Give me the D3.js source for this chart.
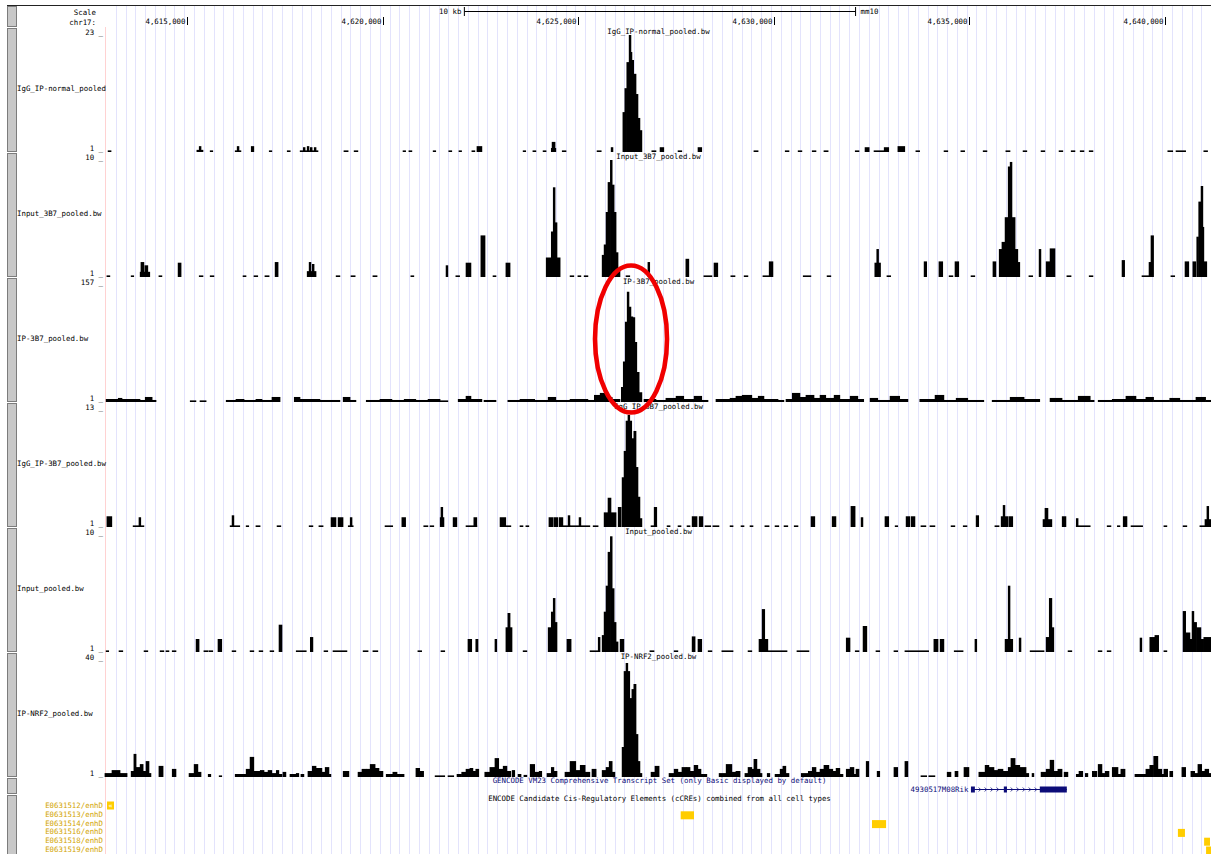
<!DOCTYPE html>
<html>
<head>
<meta charset="utf-8">
<script src="https://cdn.jsdelivr.net/npm/d3@7"></script>
<style>
  body { margin: 0; background: #fff; }
  svg { display: block; }
  text { font-family: "DejaVu Sans Mono", "Liberation Mono", monospace; font-size: 7.4px; }
</style>
</head>
<body>
<svg id="chart" width="1211" height="854"></svg>
<script>
// ---- Genome window (chr17, mm10), positions in kb ----
const regionStart = 4612.929;
const regionEnd = 4641.176;
const rulerTicks = [4615, 4620, 4625, 4630, 4635, 4640];
const scaleBarStartKb = 4622.09;
const scaleBarLengthKb = 10;
const gridStepKb = 0.25;

// ---- bigWig tracks ----
const trackNames = ["IgG_IP-normal_pooled", "Input_3B7_pooled.bw", "IP-3B7_pooled.bw",
                    "IgG_IP-3B7_pooled.bw", "Input_pooled.bw", "IP-NRF2_pooled.bw"];
const trackTitles = ["IgG_IP-normal_pooled.bw", "Input_3B7_pooled.bw", "IP-3B7_pooled.bw",
                     "IgG_IP-3B7_pooled.bw", "Input_pooled.bw", "IP-NRF2_pooled.bw"];
const trackMax = [23, 10, 157, 13, 10, 40];
const trackMin = [1, 1, 1, 1, 1, 1];

// Signal as [startKb, endKb, value]
const igGNormalSignal = [
  [4612.98,4613.06,1],[4615.25,4615.41,1.4],[4615.31,4615.36,2.1],[4615.59,4615.66,1],[4616.23,4616.38,1],
  [4616.28,4616.33,2.1],[4616.64,4616.71,2.1],[4617.10,4617.17,1],[4617.56,4617.64,1],[4617.89,4618.35,1],
  [4617.97,4618.02,1.9],[4618.07,4618.12,2.1],[4618.15,4618.20,1.9],[4618.25,4618.30,1.9],[4619.01,4619.12,1],
  [4619.27,4619.37,1],[4620.52,4620.59,1],[4620.67,4620.75,1],[4621.29,4621.36,1],[4621.69,4621.77,1],
  [4621.95,4622.02,1],[4622.28,4622.36,1],[4622.41,4622.54,2.1],[4623.59,4623.66,1],[4623.84,4623.92,1],
  [4624.10,4624.18,1],[4624.31,4624.43,1.75],[4624.33,4624.41,2.9],[4624.59,4624.69,1],[4625.48,4625.59,1],
  [4625.84,4625.89,1.9],
  [4626.14,4626.19,8.5],[4626.19,4626.24,13.0],[4626.24,4626.30,17.9],[4626.30,4626.35,23],[4626.35,4626.37,19.8],
  [4626.37,4626.42,18.3],[4626.42,4626.48,15.7],[4626.48,4626.53,11.9],[4626.53,4626.58,7.4],[4626.58,4626.63,5.1],
  [4626.88,4626.99,1],[4627.09,4627.19,1.9],[4627.55,4627.65,1],[4628.06,4628.16,1.9],[4629.49,4629.60,1],
  [4630.29,4630.39,1],[4630.62,4630.72,1],[4630.98,4631.08,1],[4631.28,4631.39,1],[4632.08,4632.18,1],
  [4632.33,4632.44,1.9],[4632.56,4632.82,1],[4632.82,4632.94,1.9],[4633.17,4633.35,2.1],[4633.63,4633.73,1],
  [4634.35,4634.45,1],[4634.78,4634.88,1],[4635.35,4635.45,1],[4635.93,4636.04,1],[4636.37,4636.47,1],
  [4636.83,4636.93,1],[4637.29,4637.39,1],[4637.60,4637.70,1],[4637.83,4637.93,1],[4638.06,4638.16,1],
  [4640.07,4640.20,1],[4640.28,4640.53,1],[4640.99,4641.09,1]
];

const input3B7Signal = [
  [4612.95,4613.03,1],[4613.57,4613.64,1],[4613.80,4614.05,1.4],[4613.82,4613.90,2.15],[4613.92,4614.00,1.9],
  [4614.28,4614.36,1],[4614.77,4614.85,2.1],[4615.31,4615.41,1],[4615.59,4615.69,1],[4616.43,4616.51,1],
  [4616.71,4616.81,1],[4616.99,4617.10,1],[4617.25,4617.33,2.15],[4618.07,4618.30,1.45],[4618.12,4618.17,2.15],
  [4618.20,4618.25,2.0],[4618.81,4618.91,1],[4619.19,4619.30,1],[4619.75,4619.86,1],[4620.72,4620.80,1],
  [4621.62,4621.67,1.9],[4621.87,4621.97,1],[4622.13,4622.26,2.1],[4622.51,4622.62,4.2],[4622.82,4622.90,1],
  [4623.15,4623.26,2.1],
  [4624.18,4624.31,2.5],[4624.31,4624.36,4.5],[4624.36,4624.41,7.9],[4624.41,4624.46,5.2],[4624.46,4624.54,2.5],
  [4624.79,4624.89,1],[4624.99,4625.07,1],[4625.15,4625.25,1],
  [4625.61,4625.66,2.7],[4625.66,4625.71,3.5],[4625.71,4625.76,6],[4625.76,4625.82,8.3],[4625.82,4625.87,10],
  [4625.87,4625.92,8.1],[4625.92,4625.97,6],[4625.97,4626.02,2.9],[4626.02,4626.07,1.6],
  [4626.22,4626.32,1],[4626.78,4626.83,2.15],[4627.75,4627.83,2.4],[4628.21,4628.42,1],[4628.47,4628.57,2.1],
  [4628.90,4629.01,1],[4629.24,4629.34,1],[4629.72,4629.88,1],[4629.88,4629.98,2.2],[4630.75,4630.95,1],
  [4631.36,4631.46,1],[4632.58,4632.73,2.1],[4632.63,4632.68,3.15],[4632.89,4632.99,1],[4633.84,4633.91,2.2],
  [4634.22,4634.32,2.2],[4634.48,4634.58,1],[4634.63,4634.73,2.2],[4635.04,4635.14,1],[4635.60,4635.68,2.2],
  [4635.76,4635.83,3.15],[4635.83,4635.91,3.7],[4635.91,4635.99,5.6],[4635.99,4636.04,9.5],[4636.04,4636.09,9.85],
  [4636.09,4636.17,5.6],[4636.17,4636.24,3.15],[4636.24,4636.29,2.15],
  [4636.52,4636.62,1],[4636.78,4636.83,3.15],[4636.96,4637.06,2.2],[4637.06,4637.19,3.2],[4637.49,4637.60,1],
  [4638.06,4638.16,1],[4638.90,4638.97,2.3],[4639.41,4639.59,1],[4639.59,4639.64,2.15],[4639.64,4639.71,4.2],
  [4640.15,4640.25,1],[4640.51,4640.61,2.2],[4640.71,4640.79,2.2],[4640.81,4640.86,4.1],[4640.86,4640.92,6.8],
  [4640.92,4640.97,8],[4640.97,4640.99,4.85],[4640.99,4641.07,2.2]
];

const ip3B7Signal = [
  [4612.93,4613.24,5],[4613.24,4613.34,6.4],[4613.34,4613.80,5],[4613.80,4613.93,3.7],[4613.93,4614.11,7.7],
  [4614.11,4614.21,3.7],[4615.08,4615.23,1],[4615.33,4615.49,1],[4616.00,4616.25,3.7],[4616.25,4616.46,5],
  [4616.46,4616.76,3.7],[4616.76,4616.92,5],[4616.92,4617.17,3.7],[4617.17,4617.38,7.7],[4617.74,4617.89,7.7],
  [4617.89,4618.40,5],[4618.40,4618.91,3.7],[4618.99,4619.17,7.7],[4619.17,4619.32,3.7],[4619.58,4619.93,3.7],
  [4619.93,4620.24,5],[4620.24,4620.55,3.7],[4620.55,4620.85,5],[4620.85,4621.16,3.7],[4621.16,4621.47,5],
  [4621.47,4621.67,1],[4621.93,4622.13,5],[4622.13,4622.26,9.1],[4622.26,4622.54,5],[4622.59,4622.90,3.7],
  [4623.20,4623.51,3.7],[4623.51,4623.89,5],[4623.89,4624.23,3.7],[4624.23,4624.43,7.7],[4624.43,4624.79,3.7],
  [4624.79,4625.25,5],[4625.25,4625.41,3.7],[4625.41,4625.56,10.4],[4625.56,4625.71,13.1],[4625.71,4625.87,7.7],
  [4625.87,4626.07,5],
  [4626.10,4626.15,21],[4626.15,4626.20,55],[4626.20,4626.25,108],[4626.25,4626.30,148],[4626.30,4626.35,128],
  [4626.35,4626.40,115],[4626.40,4626.45,114],[4626.45,4626.50,81],[4626.50,4626.56,41],[4626.56,4626.63,14],
  [4626.68,4626.99,5],[4626.99,4627.24,3.7],[4627.24,4627.50,6.4],[4627.50,4627.70,9.1],[4627.70,4627.96,5],
  [4627.96,4628.16,9.1],[4628.16,4628.32,3.7],[4628.52,4628.88,5],[4628.88,4629.03,6.4],[4629.03,4629.19,9.1],
  [4629.19,4629.44,10.4],[4629.44,4629.60,6.4],[4629.60,4629.75,9.1],[4629.75,4630.11,5],[4630.11,4630.26,3.7],
  [4630.31,4630.47,5],[4630.47,4630.67,13.1],[4630.67,4630.82,7.7],[4630.82,4631.03,10.4],[4631.03,4631.18,6.4],
  [4631.18,4631.33,10.4],[4631.33,4631.54,6.4],[4631.54,4631.69,10.4],[4631.69,4631.95,5],[4631.95,4632.15,9.1],
  [4632.15,4632.30,5],[4632.46,4632.66,6.4],[4632.66,4632.97,3.7],[4632.97,4633.22,9.1],[4633.22,4633.43,5],
  [4633.73,4634.12,5],[4634.12,4634.35,10.4],[4634.35,4634.66,3.7],[4634.66,4634.96,6.4],[4634.96,4635.37,3.7],
  [4635.58,4636.04,3.7],[4636.04,4636.40,7.7],[4636.40,4636.80,5],[4637.06,4637.37,6.4],[4637.37,4637.78,3.7],
  [4637.78,4638.09,9.1],[4638.09,4638.19,3.7],[4638.29,4638.65,3.7],[4638.65,4639.00,5],[4639.00,4639.26,9.1],
  [4639.26,4639.51,5],[4639.51,4639.71,7.7],[4639.71,4640.12,3.7],[4640.12,4640.38,6.4],[4640.38,4640.79,3.7],
  [4640.79,4641.04,7.7],[4641.04,4641.17,3.7]
];

const igG3B7Signal = [
  [4612.95,4613.08,2.1],[4613.62,4613.90,1],[4613.77,4613.82,2.0],[4616.10,4616.35,1],[4616.15,4616.20,2.2],
  [4616.51,4616.58,1],[4616.76,4616.87,1],[4617.30,4617.40,1],[4618.12,4618.22,1],[4618.37,4618.48,1],
  [4618.68,4618.81,2.0],[4618.86,4618.99,2.0],[4619.12,4619.25,1],[4619.17,4619.22,2.0],[4620.06,4620.26,1],
  [4620.49,4620.59,2.0],[4621.05,4621.16,1],[4621.21,4621.31,1],[4621.47,4621.57,2.0],[4621.49,4621.54,3.05],
  [4621.80,4621.90,2.0],[4622.13,4622.41,1],[4622.33,4622.41,2.0],[4623.00,4623.15,2.0],[4623.15,4623.28,1],
  [4623.51,4623.59,1],[4623.66,4623.74,1],[4624.25,4624.36,2.0],[4624.38,4624.48,2.0],[4624.51,4624.61,2.0],
  [4624.61,4624.79,1],[4624.74,4624.79,2.2],[4624.79,4625.30,1],[4625.02,4625.07,2.0],[4625.38,4625.51,1],
  [4625.66,4625.97,2.5],[4625.76,4625.84,4.0],[4626.02,4626.10,3.05],
  [4626.12,4626.17,6.1],[4626.17,4626.22,8.8],[4626.22,4626.27,11.9],[4626.27,4626.32,12.5],[4626.32,4626.37,11.9],
  [4626.37,4626.42,10.1],[4626.42,4626.48,10.85],[4626.48,4626.53,7.15],[4626.53,4626.58,4.1],[4626.58,4626.63,1.9],
  [4626.86,4627.01,1],[4626.94,4627.01,3.05],[4627.27,4627.35,1],[4627.55,4627.63,1],[4627.78,4627.86,1],
  [4627.91,4628.04,2.1],[4628.09,4628.19,2.1],[4628.24,4628.39,1],[4628.44,4628.60,1],[4628.88,4628.96,1],
  [4629.16,4629.24,1],[4629.39,4629.47,1],[4629.77,4629.88,1],[4630.03,4630.13,1],[4630.26,4630.36,1],
  [4630.52,4630.62,1],[4630.95,4631.05,2.1],[4631.49,4631.59,2.1],[4631.97,4632.08,3.15],[4632.23,4632.28,2.0],
  [4632.84,4632.94,2.1],[4633.10,4633.17,1],[4633.38,4633.48,2.1],[4633.51,4633.61,2.1],[4633.76,4633.89,1],
  [4633.99,4634.12,1],[4634.53,4634.63,1],[4634.84,4634.94,1],[4635.17,4635.24,2.2],[4635.65,4635.76,1],
  [4635.81,4635.86,2.1],[4635.86,4635.91,3.25],[4635.91,4635.99,2.1],[4636.01,4636.11,2.1],[4636.88,4636.93,1.8],
  [4636.93,4637.01,2.95],[4637.01,4637.11,1.8],[4637.37,4637.47,2.1],[4637.73,4638.09,1],[4637.73,4637.78,1.9],
  [4638.52,4638.62,1],[4638.78,4638.85,1],[4638.93,4639.03,2.1],[4639.13,4639.43,1],[4639.97,4640.05,1],
  [4640.46,4640.56,1],[4640.89,4641.02,1],[4641.02,4641.07,1.8],[4641.07,4641.12,3.15],[4641.12,4641.17,1.8]
];

const inputSignal = [
  [4612.93,4613.00,1],[4613.26,4613.36,1],[4613.90,4614.00,1],[4614.31,4614.41,1],[4614.46,4614.54,1],
  [4614.62,4614.72,1],[4615.23,4615.31,2.0],[4615.43,4615.54,1],[4615.56,4615.66,1],[4615.79,4615.89,2.0],
  [4616.15,4616.25,1],[4616.61,4616.71,1],[4616.84,4616.94,1],[4617.12,4617.22,1],[4617.35,4617.43,3.1],
  [4617.79,4618.05,1],[4618.15,4618.22,2.15],[4618.50,4618.60,1],[4618.73,4619.09,1],[4619.50,4619.63,1],
  [4619.75,4619.88,1],[4620.90,4621.00,1],[4621.49,4621.59,1],[4622.18,4622.28,2.0],[4622.38,4622.44,2.0],
  [4622.87,4622.92,2.0],[4623.15,4623.20,2.9],[4623.20,4623.26,4.0],[4623.26,4623.31,2.9],[4623.59,4623.69,1],
  [4624.23,4624.31,2.9],[4624.31,4624.36,4.1],[4624.36,4624.41,5.15],[4624.41,4624.46,3.3],[4624.71,4624.82,2.0],
  [4625.30,4625.51,1],[4625.51,4625.56,2.15],
  [4625.61,4625.66,2.3],[4625.66,4625.71,4.1],[4625.71,4625.76,6.1],[4625.76,4625.82,8.7],[4625.82,4625.87,9.9],
  [4625.87,4625.92,5.9],[4625.92,4625.97,3.3],[4625.97,4626.02,1.8],[4626.07,4626.17,2.0],
  [4626.83,4626.94,1],[4627.45,4627.55,1],[4627.91,4627.99,2.2],[4628.06,4628.16,2.0],[4628.32,4628.42,1],
  [4628.67,4628.96,1],[4629.34,4629.44,1],[4629.62,4629.70,2.0],[4629.70,4629.77,4.3],[4629.77,4629.85,2.0],
  [4629.85,4630.34,1],[4630.59,4630.90,1],[4631.85,4631.95,2.1],[4632.08,4632.18,1],[4632.28,4632.38,3.0],
  [4632.61,4632.71,1],[4633.07,4633.17,1],[4633.35,4633.96,1],[4634.09,4634.20,2.0],[4634.25,4634.35,2.0],
  [4634.61,4634.84,1],[4635.14,4635.19,2.0],[4635.91,4635.99,2.0],[4635.99,4636.04,6.1],[4636.04,4636.11,2.0],
  [4636.27,4636.32,2.1],[4636.55,4636.91,1],[4636.96,4637.04,2.15],[4637.04,4637.11,5.15],[4637.11,4637.16,2.9],
  [4637.52,4637.62,1],[4638.29,4638.39,1],[4638.52,4638.62,1],[4639.36,4639.41,2.1],[4639.61,4639.74,2.15],
  [4639.74,4639.84,2.3],[4639.97,4640.05,1],[4640.46,4640.53,4.15],[4640.53,4640.64,2.5],[4640.64,4640.69,2.0],
  [4640.69,4640.74,4.15],[4640.74,4640.81,3.3],[4640.81,4640.92,2.9],[4640.92,4640.99,2.0],[4640.99,4641.17,2.15]
];

const ipNrf2Signal = [
  [4612.90,4613.08,2.3],[4613.08,4613.29,3.3],[4613.29,4613.47,2.3],[4613.57,4613.64,3],[4613.64,4613.70,8.7],
  [4613.70,4613.80,4.3],[4613.80,4613.88,5.3],[4613.88,4613.95,3],[4613.95,4614.03,6.3],[4614.03,4614.08,2.3],
  [4614.28,4614.39,4.7],[4614.62,4614.72,3.7],[4615.05,4615.18,2.3],[4615.18,4615.28,5.3],[4615.28,4615.36,2.7],
  [4615.54,4615.61,2],[4615.82,4615.89,1.3],[4616.23,4616.51,2],[4616.51,4616.61,3.7],[4616.61,4616.71,7.7],
  [4616.71,4616.87,3],[4616.87,4616.97,3.3],[4616.97,4617.07,2.7],[4617.07,4617.17,3.3],[4617.17,4617.28,2.3],
  [4617.28,4617.35,3.3],[4617.35,4617.43,2],[4617.45,4617.53,2.7],[4617.63,4617.79,2],[4617.79,4617.86,2.3],
  [4617.91,4617.99,2],[4618.09,4618.20,3],[4618.20,4618.30,4.7],[4618.30,4618.45,4],[4618.45,4618.53,2.7],
  [4618.53,4618.63,4.3],[4618.63,4618.68,2],[4618.99,4619.14,3],[4619.37,4619.47,2.7],[4619.47,4619.58,3.7],
  [4619.58,4619.68,3.7],[4619.68,4619.81,5.3],[4619.81,4619.91,4],[4619.91,4620.01,3],[4620.09,4620.26,2],
  [4620.26,4620.37,2.7],[4620.37,4620.55,2],[4620.85,4620.95,4],[4620.95,4621.05,3],[4621.34,4621.59,1.3],
  [4621.67,4621.82,1.3],[4621.90,4622.02,2],[4622.02,4622.13,2.7],[4622.13,4622.23,3.7],[4622.23,4622.31,4],
  [4622.31,4622.38,3],[4622.38,4622.46,3.7],[4622.61,4622.74,2.7],[4622.74,4622.87,4.3],[4622.87,4622.97,7.3],
  [4622.97,4623.08,3.7],[4623.08,4623.18,4.7],[4623.18,4623.28,3],[4623.31,4623.38,3.3],[4623.46,4623.54,2],
  [4623.61,4623.69,1.7],[4623.77,4623.89,5.3],[4623.89,4624.00,2.7],[4624.00,4624.07,3],[4624.20,4624.31,2.3],
  [4624.31,4624.38,4.3],[4624.38,4624.46,3],[4624.66,4624.79,2.7],[4624.79,4624.94,6.3],[4624.94,4625.05,3.3],
  [4625.05,4625.18,5],[4625.18,4625.30,2.7],[4625.35,4625.46,3.7],[4625.61,4625.71,3.3],[4625.71,4625.79,4.3],
  [4625.79,4625.87,6.3],[4625.87,4625.94,2.7],
  [4626.12,4626.17,11],[4626.17,4626.22,36.3],[4626.22,4626.27,39],[4626.27,4626.32,36.3],[4626.32,4626.37,27.3],
  [4626.37,4626.42,30.3],[4626.42,4626.48,32],[4626.48,4626.53,15.3],[4626.53,4626.58,6.3],[4626.58,4626.63,2.3],
  [4626.86,4626.96,2.7],[4626.96,4627.07,4.7],[4627.32,4627.45,2.3],[4627.45,4627.55,3.7],[4627.55,4627.65,2.7],
  [4627.65,4627.76,4.3],[4627.76,4627.86,4.3],[4627.86,4627.96,3],[4627.96,4628.06,5],[4628.06,4628.14,3.7],
  [4628.14,4628.29,2],[4628.60,4628.78,2.3],[4628.78,4628.93,5.3],[4628.93,4629.03,2.7],[4629.03,4629.14,3],
  [4629.26,4629.34,2.3],[4629.34,4629.44,4.3],[4629.44,4629.49,3.7],[4629.49,4629.57,7],[4629.57,4629.65,3.7],
  [4629.65,4629.70,2.3],[4629.83,4629.90,2.3],[4630.03,4630.16,2],[4630.16,4630.23,3.7],[4630.23,4630.31,4.7],
  [4630.31,4630.39,2.3],[4630.70,4630.88,2.3],[4630.88,4630.98,3],[4630.98,4631.08,4.3],[4631.08,4631.18,2.7],
  [4631.18,4631.28,3.7],[4631.28,4631.41,5],[4631.41,4631.51,3.7],[4631.51,4631.59,3],[4631.59,4631.69,4],
  [4631.69,4631.77,2],[4631.85,4631.95,3.7],[4631.95,4632.05,4.3],[4632.05,4632.10,2],[4632.10,4632.18,3.7],
  [4632.36,4632.43,6.3],[4632.64,4632.71,3],[4633.07,4633.17,4.3],[4633.35,4633.43,6.3],[4633.76,4633.91,1.3],
  [4633.96,4634.12,1.3],[4634.43,4634.53,2.7],[4634.63,4634.71,3],[4634.86,4634.99,4.3],[4635.24,4635.40,2.7],
  [4635.40,4635.50,5],[4635.50,4635.63,4.3],[4635.63,4635.73,3.3],[4635.73,4635.86,3.7],[4635.86,4635.99,3],
  [4635.99,4636.06,4.3],[4636.06,4636.17,7.3],[4636.17,4636.29,5],[4636.29,4636.45,4.3],[4636.45,4636.52,2.3],
  [4636.60,4636.65,2.3],[4636.83,4636.96,2.7],[4636.96,4637.06,3.7],[4637.06,4637.16,6.7],[4637.16,4637.26,3],
  [4637.26,4637.37,3.7],[4637.42,4637.52,2.7],[4637.73,4637.80,2],[4637.80,4637.90,3],[4637.96,4638.03,2.3],
  [4638.14,4638.26,3],[4638.29,4638.39,5.3],[4638.39,4638.47,2.3],[4638.47,4638.57,3],[4638.65,4638.80,4.3],
  [4638.80,4638.87,2],[4638.87,4638.98,3.7],[4639.23,4639.51,2],[4639.51,4639.61,3.7],[4639.61,4639.71,5],
  [4639.71,4639.82,8],[4639.82,4639.92,3.7],[4639.92,4639.97,2],[4639.97,4640.07,3.7],[4640.12,4640.20,3],
  [4640.43,4640.53,4.3],[4640.66,4640.76,3],[4640.76,4640.84,2.3],[4640.84,4640.94,5.3],[4640.94,4641.02,3],
  [4641.02,4641.12,3.7],[4641.12,4641.17,2.3]
];

// ---- GENCODE gene ----
const geneName = "4930517M08Rik";
const geneExons = [[4635.04, 4635.14], [4635.88, 4635.96], [4636.80, 4637.49]];
const gencodeTitle = "GENCODE VM23 Comprehensive Transcript Set (only Basic displayed by default)";

// ---- ENCODE cCREs ----
const encodeTitle = "ENCODE Candidate Cis-Regulatory Elements (cCREs) combined from all cell types";
const cCreLabels = ["E0631512/enhD", "E0631513/enhD", "E0631514/enhD",
                    "E0631516/enhD", "E0631518/enhD", "E0631519/enhD"];
const cCreRow = [1, 2, 3, 4, 5];
const cCreStart = [4627.62, 4632.51, 4640.33, 4641.00, 4641.05];
const cCreEnd = [4627.96, 4632.87, 4640.51, 4641.15, 4641.18];

// ---- drawing ----
const svg = d3.select("#chart");
const W = 1211, H = 854;
const dataLeft = 106;
const x = d3.scaleLinear().domain([regionStart, regionEnd]).range([dataLeft, W]);
const trackPitch = 125;
const navy = "#0c0c78";
const cCreColor = "#ffcd00";

// guidelines every 250 bp
const gridKb = d3.range(regionStart + gridStepKb, regionEnd, gridStepKb);
svg.append("g").selectAll("line").data(gridKb).join("line")
  .attr("x1", d => Math.round(x(d)) + 0.5).attr("x2", d => Math.round(x(d)) + 0.5)
  .attr("y1", 6).attr("y2", H)
  .attr("stroke", "#e3e3fc").attr("stroke-width", 1);

// left edge of the data area
svg.append("line").attr("x1", dataLeft - 0.5).attr("x2", dataLeft - 0.5)
  .attr("y1", 27).attr("y2", H).attr("stroke", "#ffd2d2");

// top border
svg.append("line").attr("x1", 7).attr("x2", W).attr("y1", 5.5).attr("y2", 5.5)
  .attr("stroke", "#222").attr("stroke-width", 1);

// side buttons for each track
const buttonSpans = [[6, 26]];
trackNames.forEach((_, i) => buttonSpans.push([28 + i * trackPitch, 151 + i * trackPitch]));
buttonSpans.push([778, 793], [795, 860]);
svg.append("g").selectAll("rect").data(buttonSpans).join("rect")
  .attr("x", 7.5).attr("width", 9)
  .attr("y", d => d[0] + 0.5).attr("height", d => d[1] - d[0])
  .attr("fill", "#c8c8c8").attr("stroke", "#7c7c7c").attr("stroke-width", 1);

// ---- ruler ----
const ruler = svg.append("g");
ruler.append("text").attr("x", 96).attr("y", 15).attr("text-anchor", "end").text("Scale");
ruler.append("text").attr("x", 96).attr("y", 24.5).attr("text-anchor", "end").text("chr17:");

const sb0 = x(scaleBarStartKb), sb1 = x(scaleBarStartKb + scaleBarLengthKb);
ruler.append("line").attr("x1", sb0).attr("x2", sb1).attr("y1", 11.5).attr("y2", 11.5).attr("stroke", "#000");
[sb0, sb1].forEach(px => ruler.append("line").attr("x1", px).attr("x2", px)
  .attr("y1", 7).attr("y2", 16).attr("stroke", "#000"));
ruler.append("text").attr("x", sb0 - 3).attr("y", 14).attr("text-anchor", "end").text(`${scaleBarLengthKb} kb`);
ruler.append("text").attr("x", sb1 + 5).attr("y", 14).text("mm10");

const fmt = d3.format(",");
rulerTicks.forEach(t => {
  const px = Math.round(x(t)) + 0.5;
  ruler.append("line").attr("x1", px).attr("x2", px).attr("y1", 17).attr("y2", 25).attr("stroke", "#000");
  ruler.append("text").attr("x", px - 2).attr("y", 24).attr("text-anchor", "end").text(fmt(Math.round(t * 1000)));
});

// ---- signal tracks ----
const trackSignals = [igGNormalSignal, input3B7Signal, ip3B7Signal, igG3B7Signal, inputSignal, ipNrf2Signal];

trackSignals.forEach((signal, i) => {
  const T = i * trackPitch;
  const top = T + 35, bottom = T + 152;
  const y = d3.scaleLinear().domain([trackMin[i], trackMax[i]]).range([bottom, top]).clamp(true);
  const g = svg.append("g");

  // adjacent bins overlap by half a pixel so peaks render solid
  g.selectAll("rect").data(signal).join("rect")
    .attr("x", d => x(d[0]) - 0.25)
    .attr("width", d => Math.max(1, x(d[1]) - x(d[0])) + 0.5)
    .attr("y", d => Math.min(y(d[2]), bottom - 1.6))
    .attr("height", d => bottom - Math.min(y(d[2]), bottom - 1.6))
    .attr("fill", "#000");

  g.append("text").attr("x", (dataLeft + W) / 2).attr("y", T + 33.5)
    .attr("text-anchor", "middle").text(trackTitles[i]);
  g.append("text").attr("x", 103).attr("y", T + 34.5).attr("text-anchor", "end").text(`${trackMax[i]} _`);
  g.append("text").attr("x", 103).attr("y", T + 151).attr("text-anchor", "end").text(`${trackMin[i]} _`);
  g.append("text").attr("x", 17).attr("y", T + 90.5).text(trackNames[i]);
});

// highlight around the IP-3B7 peak
svg.append("ellipse")
  .attr("cx", x(4626.35)).attr("cy", 2 * trackPitch + 89)
  .attr("rx", 36).attr("ry", 73.5)
  .attr("fill", "none").attr("stroke", "#f00000").attr("stroke-width", 4.6);

// ---- GENCODE track ----
const gene = svg.append("g");
gene.append("text").attr("x", 659.5).attr("y", 783).attr("text-anchor", "middle")
  .attr("fill", navy).text(gencodeTitle);
const gStart = x(geneExons[0][0]), gEnd = x(geneExons[geneExons.length - 1][1]);
gene.append("line").attr("x1", gStart).attr("x2", gEnd).attr("y1", 789.5).attr("y2", 789.5)
  .attr("stroke", navy).attr("stroke-width", 1);
// intron direction marks
geneExons.slice(0, -1).forEach((ex, k) => {
  const a = x(ex[1]), b = x(geneExons[k + 1][0]);
  const marks = d3.range(a + 5, b - 3, 6);
  gene.selectAll(null).data(marks).join("path")
    .attr("d", m => `M${m - 1.2},787.5 L${m + 0.8},789.5 L${m - 1.2},791.5`)
    .attr("fill", "none").attr("stroke", navy).attr("stroke-width", 0.8);
});
gene.selectAll("rect").data(geneExons).join("rect")
  .attr("x", d => x(d[0])).attr("width", d => Math.max(2, x(d[1]) - x(d[0])))
  .attr("y", 786.5).attr("height", 6).attr("fill", navy);
gene.append("text").attr("x", gStart - 2.5).attr("y", 792).attr("text-anchor", "end")
  .attr("fill", navy).text(geneName);

// ---- ENCODE cCRE track ----
const enc = svg.append("g");
enc.append("text").attr("x", 659.5).attr("y", 801).attr("text-anchor", "middle").text(encodeTitle);
const rowCenter = r => 805.5 + r * 8.8;
enc.selectAll("text.lbl").data(cCreLabels).join("text").attr("class", "lbl")
  .attr("x", 103).attr("y", (d, r) => rowCenter(r) + 2.5).attr("text-anchor", "end")
  .attr("fill", "#d2a400").text(d => d);
// first element lies left of the window
enc.append("rect").attr("x", 107).attr("y", rowCenter(0) - 4).attr("width", 7).attr("height", 8).attr("fill", cCreColor);
enc.append("text").attr("x", 110.5).attr("y", rowCenter(0) + 2.4).attr("text-anchor", "middle")
  .attr("fill", "#fff").style("font-size", "7px").text("«");
enc.selectAll("rect.ccre").data(cCreRow).join("rect").attr("class", "ccre")
  .attr("x", (r, k) => x(cCreStart[k]))
  .attr("width", (r, k) => Math.max(2, x(cCreEnd[k]) - x(cCreStart[k])))
  .attr("y", r => rowCenter(r) - 3).attr("height", 8)
  .attr("fill", cCreColor);
</script>
</body>
</html>
